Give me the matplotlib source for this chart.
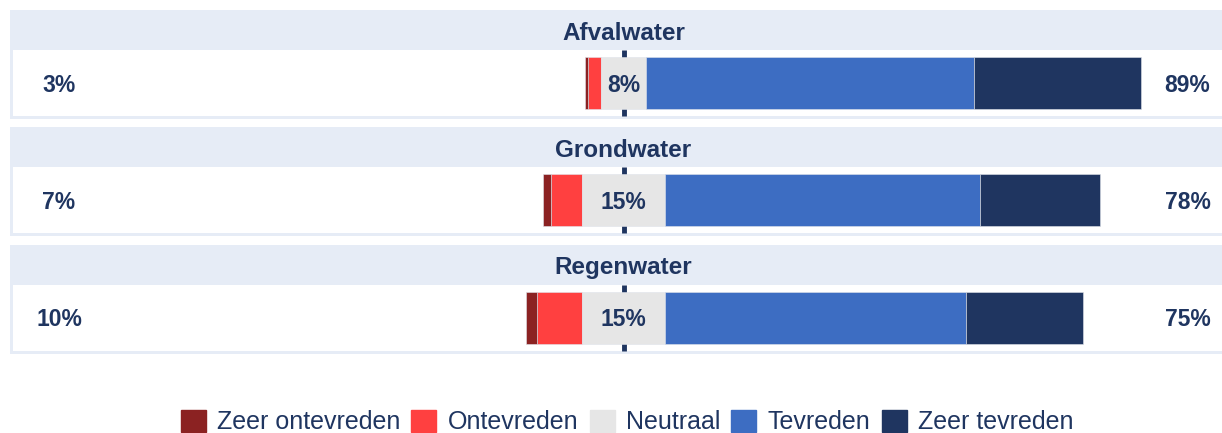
import matplotlib.pyplot as plt
from matplotlib.patches import Rectangle
from matplotlib import transforms

plt.rcParams['font.family'] = ['Liberation Sans', 'DejaVu Sans']

# data (percentages)
categorieen = ['Afvalwater', 'Grondwater', 'Regenwater']
zeer_ontevreden = [0.6, 1.5, 2.0]
ontevreden = [2.4, 5.5, 8.0]
neutraal = [8, 15, 15]
tevreden = [59, 56.5, 54]
zeer_tevreden = [30, 21.5, 21]
reeksen = ['Zeer ontevreden', 'Ontevreden', 'Neutraal', 'Tevreden', 'Zeer tevreden']

kleuren = ['#8B2222', '#FF4040', '#E6E6E6', '#3D6DC2', '#1F3560']
tekst = '#1F3560'
band = '#E6ECF6'

fig = plt.figure(figsize=(12.22, 4.33), dpi=100)
ax = fig.add_axes([0, 0, 1, 1])
ax.set_xlim(-112.0, 107.5)
ax.set_ylim(433, 0)
ax.axis('off')

trans = transforms.blended_transform_factory(ax.transAxes, ax.transData)
x0 = 10 / 1222.  # left edge of the panels

pitch = 117.25
for i, cat in enumerate(categorieen):
    yc = 83 + i * pitch
    # header band + body with border
    ax.add_patch(Rectangle((x0, yc - 73), 1 - x0, 40, transform=trans, color=band, lw=0, zorder=0))
    ax.add_patch(Rectangle((x0, yc - 33), 1 - x0, 69, transform=trans, color=band, lw=0, zorder=0))
    ax.add_patch(Rectangle((x0 + 3 / 1222., yc - 33), 1, 66, transform=trans, color='white', lw=0, zorder=0))
    ax.text(0, yc - 50, cat, ha='center', va='center', fontsize=17.5, fontweight='bold', color=tekst)

    # nullijn
    ax.plot([0, 0], [yc - 33, yc + 33], color=tekst, lw=3.5, zorder=1, solid_capstyle='butt')

    n = neutraal[i]
    h = 52
    kw = dict(height=h, edgecolor='#dfe3ea', linewidth=0.4, zorder=2)
    ax.barh(yc, ontevreden[i], left=-n / 2 - ontevreden[i], color=kleuren[1], **kw)
    ax.barh(yc, zeer_ontevreden[i], left=-n / 2 - ontevreden[i] - zeer_ontevreden[i], color=kleuren[0], **kw)
    ax.barh(yc, n, left=-n / 2, color=kleuren[2], **kw)
    ax.barh(yc, tevreden[i], left=n / 2, color=kleuren[3], **kw)
    ax.barh(yc, zeer_tevreden[i], left=n / 2 + tevreden[i], color=kleuren[4], **kw)

    neg = zeer_ontevreden[i] + ontevreden[i]
    pos = tevreden[i] + zeer_tevreden[i]
    ty = yc + 2.5
    ax.text(-101.4, ty, '%d%%' % round(neg), ha='center', va='center', fontsize=16.5, fontweight='bold', color=tekst)
    ax.text(0, ty, '%d%%' % round(n), ha='center', va='center', fontsize=16.5, fontweight='bold', color=tekst, zorder=3)
    ax.text(101.3, ty, '%d%%' % round(pos), ha='center', va='center', fontsize=16.5, fontweight='bold', color=tekst)

handles = [Rectangle((0, 0), 1, 1, color=k) for k in kleuren]
leg = fig.legend(handles, reeksen, loc='center', bbox_to_anchor=(627 / 1222., 1 - 422 / 433.), ncol=5,
                 frameon=False, fontsize=18, handlelength=1.0, handleheight=1.0,
                 handletextpad=0.45, columnspacing=0.45, borderaxespad=0, borderpad=0)
for t in leg.get_texts():
    t.set_color(tekst)

fig.savefig('out.png', dpi=100)
